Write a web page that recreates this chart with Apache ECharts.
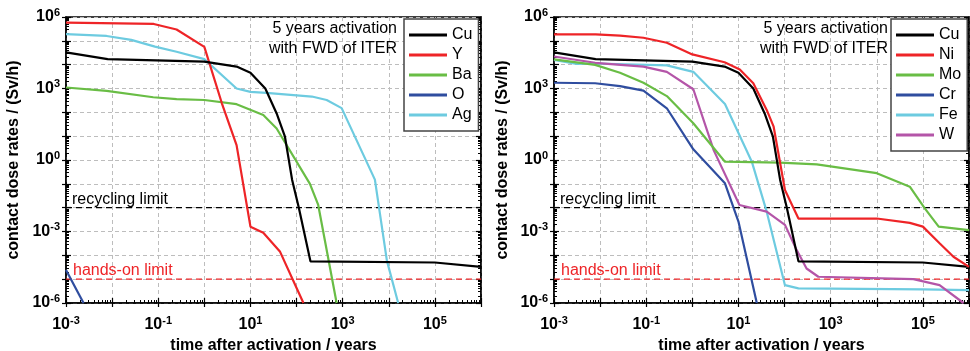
<!DOCTYPE html>
<html>
<head>
<meta charset="utf-8">
<script src="https://cdn.jsdelivr.net/npm/echarts@6/dist/echarts.min.js"></script>
<style>
    html,body{margin:0;padding:0;background:#fff;}
    #main{width:970px;height:351px;}
</style>
</head>
<body>
<div id="main"></div>
<script>
    // time after activation (years) and contact dose rate (Sv/h)
    var cuT = [1e-3, 8e-3, 1, 5, 10, 21, 37, 56, 80, 112, 200, 1e5, 1e6];
    var cuD = [3.3e4, 1.7e4, 1.35e4, 8.3e3, 4.6e3, 1.0e3, 90, 9.5, 0.15, 1e-2, 5.6e-5, 5.0e-5, 3.3e-5];

    var yT = [1e-3, 0.08, 0.25, 1, 2.4, 5, 10, 19, 44, 141];
    var yD = [5.8e5, 5.1e5, 3e5, 5.6e4, 240, 4.2, 1.6e-3, 8.9e-4, 1.4e-4, 1e-6];

    var baT = [1e-3, 7.6e-3, 0.078, 0.25, 1, 5, 19, 37, 195, 295, 740];
    var baD = [1.1e3, 800, 430, 360, 330, 220, 77, 21, 0.1, 0.013, 1e-6];

    var oT = [1e-3, 2.4e-3];
    var oD = [2.4e-5, 1e-6];

    var agT = [1e-3, 7.6e-3, 0.026, 0.085, 0.25, 1, 5, 10, 22, 215, 450, 950, 5000, 9100, 16000];
    var agD = [1.9e5, 1.6e5, 1.1e5, 5.7e4, 3.5e4, 1.7e4, 1e3, 720, 660, 460, 330, 150, 0.15, 6e-5, 1e-6];

    var niT = [1e-3, 8e-3, 0.027, 0.087, 0.28, 1, 5, 10.7, 21, 41, 58, 102, 200, 1e4, 5.2e4, 1e5, 2.3e5, 4.6e5, 1e6];
    var niD = [1.86e5, 1.86e5, 1.66e5, 1.35e5, 8.3e4, 2.7e4, 1.26e4, 6.3e3, 1.66e3, 126, 25, 0.055, 3.5e-3, 3.5e-3, 2.3e-3, 1.6e-3, 3.2e-4, 8.7e-5, 3.3e-5];

    var moT = [1e-3, 7.8e-3, 0.027, 0.087, 0.28, 1.05, 5.1, 79, 500, 1e4, 5.2e4, 1.1e5, 2.2e5, 1e6];
    var moD = [1.66e4, 9.8e3, 4.6e3, 1.74e3, 480, 35, 0.85, 0.78, 0.66, 0.28, 0.076, 9.3e-3, 1.6e-3, 1.15e-3];

    var crT = [1e-3, 7.8e-3, 0.027, 0.087, 0.28, 1.05, 5.1, 10, 25];
    var crD = [1.74e3, 1.66e3, 1.26e3, 810, 148, 2.8, 0.105, 2.6e-3, 1e-6];

    var feT = [1e-3, 3.1e-3, 7.8e-3, 0.28, 1.05, 5.1, 19.5, 41, 102, 200, 1e5, 1e6];
    var feD = [1.6e4, 1.07e4, 1.12e4, 9.3e3, 5e3, 224, 0.85, 6.8e-3, 5.6e-6, 4.1e-6, 3.7e-6, 3.5e-6];

    var wT = [1e-3, 7.8e-3, 0.087, 0.28, 1.05, 2.9, 10.5, 41, 102, 182, 300, 540, 6.2e4, 2.3e5, 7.6e5];
    var wD = [2.2e4, 1.2e4, 8.3e3, 5e3, 930, 2.6, 0.013, 6.8e-3, 1.9e-3, 1.7e-4, 2.8e-5, 1.26e-5, 1e-5, 5.6e-6, 1e-6];

    var recyclingLimit = 1e-2;
    var handsOnLimit = 1e-5;
    var timeRange = [1e-3, 1e6];
    var doseRange = [1e-6, 1e6];

    var leftNames = ['Cu', 'Y', 'Ba', 'O', 'Ag'];
    var rightNames = ['Cu', 'Ni', 'Mo', 'Cr', 'Fe', 'W'];

    var FONT = 'Liberation Sans, Arial, sans-serif';
    var COLORS = {Cu:'#000000', Y:'#ee2427', Ba:'#69bd45', O:'#2f4d9f', Ag:'#6dcbe0',
                  Ni:'#ee2427', Mo:'#69bd45', Cr:'#2f4d9f', Fe:'#6dcbe0', W:'#b455a8'};

    function zip(t, d){
        var out = [];
        for(var i=0;i<t.length;i++) out.push([t[i], d[i]]);
        return out;
    }

    function expLabel(step, base){
        return function(v){
            var e = Math.round(Math.log10(v));
            if(((e - base) % step + step) % step !== 0) return '';
            return '{b|10}{s|' + e + '}';
        };
    }
    var labelRich = {
        b:{fontFamily:FONT, fontWeight:'bold', fontSize:16, color:'#000', lineHeight:20},
        s:{fontFamily:FONT, fontWeight:'bold', fontSize:11, color:'#000', lineHeight:11, verticalAlign:'top'}
    };
    var gridLine = {show:true, lineStyle:{color:'#bdbdbd', width:1, type:[4,3]}};
    var titleStyle = {fontFamily:FONT, fontWeight:'bold', fontSize:16, color:'#000'};

    function makeX(g){
        return [{
            gridIndex:g, type:'log', logBase:10, min:timeRange[0], max:timeRange[1], interval:1,
            position:'bottom',
            name:'time after activation / years', nameLocation:'middle', nameGap:31,
            nameTextStyle:titleStyle,
            axisLine:{onZero:false, lineStyle:{color:'#000', width:1.5}},
            axisTick:{inside:true, length:5, lineStyle:{color:'#000', width:1.2}},
            minorTick:{show:true, splitNumber:9, length:3, lineStyle:{color:'#000', width:1}},
            axisLabel:{margin:12, formatter:expLabel(2, -3), rich:labelRich},
            splitLine:gridLine
        },{
            gridIndex:g, type:'log', logBase:10, min:timeRange[0], max:timeRange[1], interval:1,
            position:'bottom',
            axisLine:{show:false, onZero:false},
            axisTick:{inside:false, length:4, lineStyle:{color:'#000', width:1.2}},
            axisLabel:{show:false}, splitLine:{show:false}
        }];
    }
    function makeY(g, gap){
        return [{
            gridIndex:g, type:'log', logBase:10, min:doseRange[0], max:doseRange[1], interval:1,
            position:'left',
            name:'contact dose rates / (Sv/h)', nameLocation:'middle', nameGap:gap,
            nameTextStyle:titleStyle,
            axisLine:{onZero:false, lineStyle:{color:'#000', width:1.5}},
            axisTick:{inside:true, length:5, lineStyle:{color:'#000', width:1.2}},
            minorTick:{show:true, splitNumber:9, length:3, lineStyle:{color:'#000', width:1}},
            axisLabel:{margin:6, formatter:expLabel(3, 0), rich:labelRich},
            splitLine:gridLine
        },{
            gridIndex:g, type:'log', logBase:10, min:doseRange[0], max:doseRange[1], interval:1,
            position:'left',
            axisLine:{show:false, onZero:false},
            axisTick:{inside:false, length:4, lineStyle:{color:'#000', width:1.2}},
            axisLabel:{show:false}, splitLine:{show:false}
        },{
            gridIndex:g, type:'log', logBase:10, min:doseRange[0], max:doseRange[1], interval:1,
            position:'right',
            axisLine:{onZero:false, lineStyle:{color:'#000', width:1.5}},
            axisTick:{inside:true, length:5, lineStyle:{color:'#000', width:1.2}},
            minorTick:{show:true, splitNumber:9, length:3, lineStyle:{color:'#000', width:1}},
            axisLabel:{show:false}, splitLine:{show:false}
        }];
    }

    function curve(name, t, d, xi, yi){
        return {
            name:name, type:'line', xAxisIndex:xi, yAxisIndex:yi,
            data:zip(t, d), symbol:'none', clip:true, z:3,
            lineStyle:{color:COLORS[name], width:2.2},
            itemStyle:{color:COLORS[name]}
        };
    }
    function limit(value, color, xi, yi){
        return {
            type:'line', xAxisIndex:xi, yAxisIndex:yi, symbol:'none', silent:true, z:2,
            data:[[timeRange[0], value], [timeRange[1], value]],
            lineStyle:{color:color, width:1.2, type:[6,4]}
        };
    }

    var series = [
        limit(recyclingLimit, '#000', 0, 0), limit(handsOnLimit, '#ee2427', 0, 0),
        limit(recyclingLimit, '#000', 2, 3), limit(handsOnLimit, '#ee2427', 2, 3),
        curve('O', oT, oD, 0, 0),
        curve('Ag', agT, agD, 0, 0),
        curve('Ba', baT, baD, 0, 0),
        curve('Y', yT, yD, 0, 0),
        curve('Cu', cuT, cuD, 0, 0),
        curve('Cr', crT, crD, 2, 3),
        curve('Fe', feT, feD, 2, 3),
        curve('W', wT, wD, 2, 3),
        curve('Mo', moT, moD, 2, 3),
        curve('Cu', cuT, cuD, 2, 3),
        curve('Ni', niT, niD, 2, 3)
    ];

    var legendBase = {
        orient:'vertical', backgroundColor:'#fff', borderColor:'#444', borderWidth:1.5,
        icon:'rect', itemWidth:38, itemHeight:3, itemGap:4, selectedMode:false,
        textStyle:{fontFamily:FONT, fontSize:16, color:'#000', lineHeight:16}
    };

    function note(x, y, text, color){
        return {type:'text', left:x, top:y, z:10,
            style:{text:text, fill:color, font:'16px ' + FONT}};
    }

    var chart = echarts.init(document.getElementById('main'), null, {renderer:'canvas'});
    chart.setOption({
        animation:false,
        grid:[
            {left:66, top:17, width:415, height:286, outerBoundsMode:'none', containLabel:false,
             show:true, borderColor:'#000', borderWidth:1.5},
            {left:554, top:17, width:415, height:286, outerBoundsMode:'none', containLabel:false,
             show:true, borderColor:'#000', borderWidth:1.5}
        ],
        xAxis:makeX(0).concat(makeX(1)),
        yAxis:makeY(0, 44).concat(makeY(1, 43)),
        legend:[
            Object.assign({}, legendBase, {data:leftNames, left:404, top:19, padding:[8,6,8,5]}),
            Object.assign({}, legendBase, {data:rightNames, left:891, top:19, padding:[8,6,8,5]})
        ],
        graphic:[
            {type:'text', right:573, top:21, z:10, style:{text:'5 years activation', fill:'#000', font:'16px ' + FONT}},
            {type:'text', right:573, top:41, z:10, style:{text:'with FWD of ITER', fill:'#000', font:'16px ' + FONT}},
            {type:'text', right:82, top:21, z:10, style:{text:'5 years activation', fill:'#000', font:'16px ' + FONT}},
            {type:'text', right:82, top:41, z:10, style:{text:'with FWD of ITER', fill:'#000', font:'16px ' + FONT}},
            note(72, 192, 'recycling limit', '#000'),
            note(73, 263, 'hands-on limit', '#ee2427'),
            note(560, 192, 'recycling limit', '#000'),
            note(561, 263, 'hands-on limit', '#ee2427')
        ],
        series:series
    });
    window.addEventListener('resize', chart.resize);
</script>
</body>
</html>
